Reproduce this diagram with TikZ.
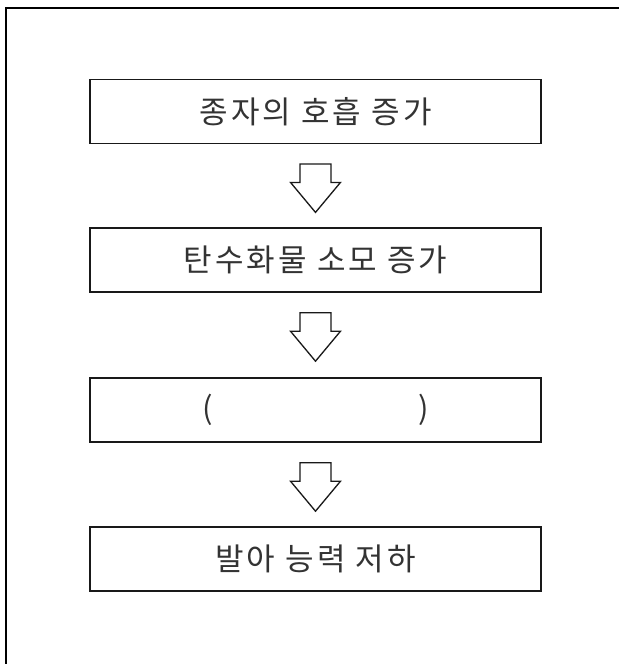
\documentclass[tikz,border=0pt]{standalone}
\usepackage{fontspec}
\setmainfont{Noto Sans CJK KR}[LetterSpace=10]
\usetikzlibrary{calc}
\begin{document}
\begin{tikzpicture}[x=1pt,y=-1pt,
  stagebox/.style={draw=black!90, line width=1.8pt, minimum width=451pt, minimum height=64pt,
    inner sep=0pt, font=\fontsize{31}{31}\selectfont, text=black!80},
  blockarrow/.style={draw=black!90, line width=1.3pt, line join=miter, fill=white},
  frameline/.style={draw=black, line width=2pt}]
\useasboundingbox (0,0) rectangle (619,664);
\draw[frameline] (6,664) -- (6,8) -- (619,8);
\node[stagebox] (b1) at (315.5,111.5) {종자의 호흡 증가};
\node[stagebox] (b2) at (315.5,260.3) {탄수화물 소모 증가};
\node[stagebox] (b3) at (315.5,410.3) {(\hspace{205pt})};
\node[stagebox] (b4) at (315.5,559.3) {발아 능력 저하};
\foreach \a/\b in {b1/b2,b2/b3,b3/b4}{
  \draw[blockarrow] ($(\a.south)+(-15.5,19.5)$) -- ($(\a.south)+(15.5,19.5)$)
    -- ($(\a.south)+(15.5,38)$) -- ($(\a.south)+(25,38)$)
    -- ($(\a.south)+(0,68)$) -- ($(\a.south)+(-25,38)$)
    -- ($(\a.south)+(-15.5,38)$) -- cycle;
}
\end{tikzpicture}
\end{document}
